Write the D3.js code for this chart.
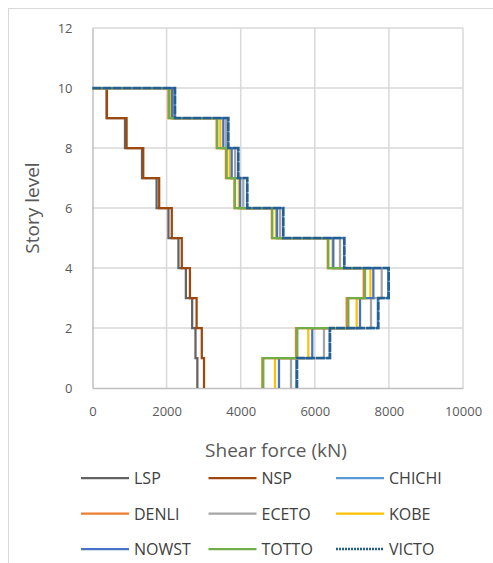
<!DOCTYPE html>
<html>
<head>
<meta charset="utf-8">
<script src="https://cdn.jsdelivr.net/npm/d3@7"></script>
<style>
  body { margin: 0; background: #fff; }
  text { font-family: "Open Sans", "Noto Sans", sans-serif; }
</style>
</head>
<body>
<div id="chart"></div>
<script>
// shear force per story, stories 1..10 (kN)
var stories = [1, 2, 3, 4, 5, 6, 7, 8, 9, 10];
var LSP    = [2830, 2780, 2690, 2520, 2320, 2050, 1730, 1336, 877, 380];
var NSP    = [3010, 2950, 2810, 2630, 2410, 2140, 1800, 1370, 920, 390];
var CHICHI = [5500, 6400, 7700, 7980, 6790, 5140, 4170, 3930, 3660, 2220];
var DENLI  = [4583, 5493, 6860, 7320, 6350, 4840, 3830, 3600, 3350, 2050];
var ECETO  = [5358, 6248, 7517, 7805, 6680, 5060, 4070, 3850, 3600, 2180];
var KOBE   = [4926, 5825, 7130, 7500, 6480, 4950, 3950, 3700, 3450, 2120];
var NOWST  = [5034, 5932, 7220, 7580, 6500, 4980, 3985, 3757, 3530, 2150];
var TOTTO  = [4610, 5528, 6905, 7355, 6365, 4853, 3846, 3622, 3368, 2065];
var VICTO  = [5520, 6410, 7715, 7995, 6797, 5150, 4178, 3935, 3665, 2227];

var seriesNames = ["LSP", "NSP", "CHICHI", "DENLI", "ECETO", "KOBE", "NOWST", "TOTTO", "VICTO"];
var seriesData = [LSP, NSP, CHICHI, DENLI, ECETO, KOBE, NOWST, TOTTO, VICTO];
var colors = ["#636363", "#9E480E", "#5B9BD5", "#ED7D31", "#A5A5A5", "#FFC000", "#4472C4", "#70AD47", "#255E91"];
var xTicks = [0, 2000, 4000, 6000, 8000, 10000];
var yTicks = [0, 2, 4, 6, 8, 10, 12];

var W = 493, H = 563;
var svg = d3.select("#chart").append("svg")
    .attr("width", W).attr("height", H);

svg.append("rect")
    .attr("x", 8.5).attr("y", 8.5)
    .attr("width", 500).attr("height", 560)
    .attr("fill", "#fff").attr("stroke", "#D9D9D9");

var x = d3.scaleLinear().domain([0, 10000]).range([92.5, 463]);
var y = d3.scaleLinear().domain([0, 12]).range([388, 28]);

// gridlines
svg.append("g").selectAll("line.v")
    .data(xTicks.slice(1))
  .enter().append("line")
    .attr("x1", function(d) { return x(d); }).attr("x2", function(d) { return x(d); })
    .attr("y1", y(0)).attr("y2", y(12))
    .attr("stroke", "#D9D9D9").attr("stroke-width", 1.5);
svg.append("g").selectAll("line.h")
    .data(yTicks.slice(1))
  .enter().append("line")
    .attr("x1", x(0)).attr("x2", x(10000))
    .attr("y1", function(d) { return y(d); }).attr("y2", function(d) { return y(d); })
    .attr("stroke", "#D9D9D9").attr("stroke-width", 1.5);

// axes
var xAxis = svg.append("g")
    .attr("transform", "translate(0," + y(0) + ")")
    .call(d3.axisBottom(x).tickValues(xTicks).tickFormat(d3.format("d")).tickSize(0).tickPadding(19));
var yAxis = svg.append("g")
    .attr("transform", "translate(" + x(0) + ",0)")
    .call(d3.axisLeft(y).tickValues(yTicks).tickSize(0).tickPadding(20));
[xAxis, yAxis].forEach(function(a) {
  a.select(".domain").attr("stroke", "#BFBFBF").attr("stroke-width", 1.5);
  a.selectAll("text").attr("fill", "#595959").style("font-size", "13px")
      .style("font-family", "'Open Sans', sans-serif");
});

svg.append("text")
    .attr("x", 276).attr("y", 457)
    .attr("text-anchor", "middle")
    .attr("fill", "#595959").style("font-size", "19px")
    .text("Shear force (kN)");
svg.append("text")
    .attr("transform", "translate(39,208) rotate(-90)")
    .attr("text-anchor", "middle")
    .attr("fill", "#595959").style("font-size", "19px")
    .text("Story level");

// step lines: (0,10) -> (V10,10) -> (V10,9) -> (V9,9) ... -> (V1,0)
function stepPoints(vals) {
  var pts = [[0, 10]];
  for (var i = stories.length - 1; i >= 0; i--) {
    pts.push([vals[i], stories[i]]);
    pts.push([vals[i], stories[i] - 1]);
  }
  return pts;
}
var line = d3.line()
    .x(function(d) { return x(d[0]); })
    .y(function(d) { return y(d[1]); });

var order = [0, 1, 2, 4, 5, 6, 3, 7, 8];
order.forEach(function(i) {
  svg.append("path")
      .datum(stepPoints(seriesData[i]))
      .attr("d", line)
      .attr("fill", "none")
      .attr("stroke", colors[i])
      .attr("stroke-width", i == 8 ? 2.6 : 2.25)
      .attr("stroke-dasharray", i == 8 ? "9,1" : null);
});

// legend
var legend = svg.append("g");
seriesNames.forEach(function(name, i) {
  var col = i % 3, row = Math.floor(i / 3);
  var lx = 81 + col * 127.5, ly = 478 + row * 35.5;
  legend.append("line")
      .attr("x1", lx).attr("x2", lx + 48)
      .attr("y1", ly).attr("y2", ly)
      .attr("stroke", colors[i]).attr("stroke-width", i == 8 ? 2.6 : 2.25)
      .attr("stroke-dasharray", i == 8 ? "2,1" : null);
  legend.append("text")
      .attr("x", lx + 53).attr("y", ly + 6)
      .attr("fill", "#404040").style("font-size", "16px")
      .text(name);
});
</script>
</body>
</html>
